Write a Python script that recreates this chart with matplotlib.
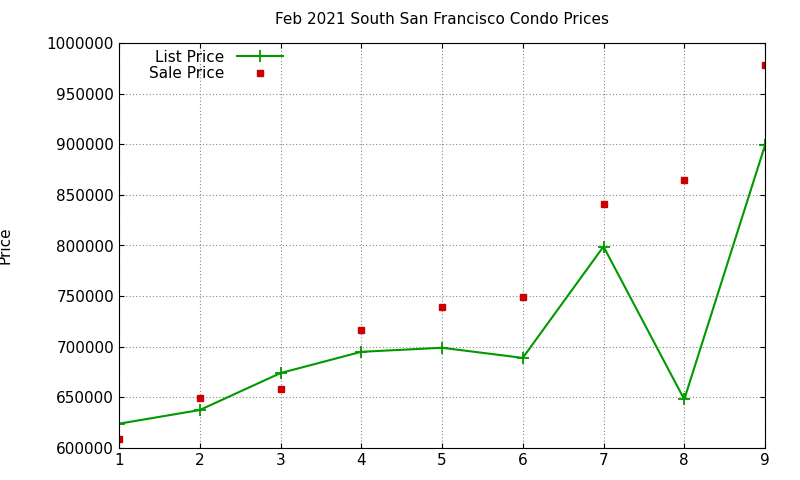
import matplotlib
matplotlib.use("Agg")
import matplotlib.pyplot as plt
from matplotlib.ticker import FormatStrFormatter

months = [1, 2, 3, 4, 5, 6, 7, 8, 9]
list_price = [624000, 637500, 674000, 695000, 699000, 689000, 799000, 648000, 899000]
sale_price = [609000, 649000, 658000, 716500, 739000, 749000, 841000, 865000, 978000]

fig = plt.figure(figsize=(8, 4.8), dpi=100)
ax = fig.add_axes([119/800, 32/480, (765-119)/800, (448-43)/480])

ax.plot(months, list_price, color='#009900', lw=1.5, marker='+', ms=8, mew=1.3, label='List Price')
ax.plot(months, sale_price, ls='none', color='#cc0000', marker='s', ms=5, label='Sale Price')

ax.set_xlim(1, 9)
ax.set_ylim(600000, 1000000)
ax.set_xticks(months)
ax.set_yticks(range(600000, 1000001, 50000))
ax.yaxis.set_major_formatter(FormatStrFormatter('%d'))
ax.grid(True, ls=(0, (1, 2)), color='#888888', lw=0.8)
ax.tick_params(direction='in', labelsize=11, top=True, right=True)
ax.set_ylabel('Price', fontsize=11)
ax.yaxis.set_label_coords(-0.165, 0.5)
ax.set_title('Feb 2021 South San Francisco Condo Prices', fontsize=11, pad=14)
ax.legend(loc='upper left', frameon=False, markerfirst=False, fontsize=11,
          handlelength=3, borderpad=0.2, labelspacing=0.1, bbox_to_anchor=(0.03, 1.01))

fig.savefig('out.png')
